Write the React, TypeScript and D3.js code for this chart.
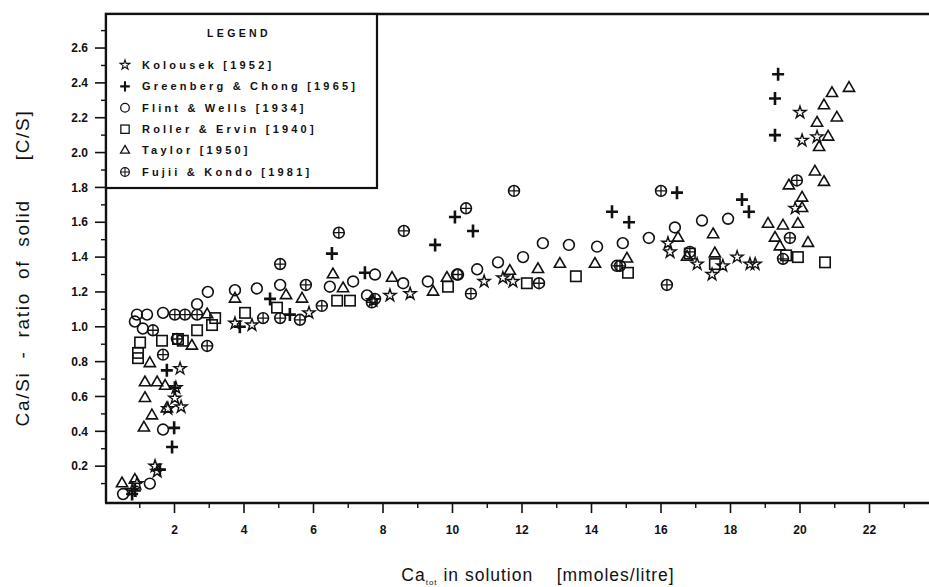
import React from "react";
import * as d3 from "d3";

type Pt = [number, number];

// Ca in solution [mmol/l], C/S of solid
const kolousek: Pt[] = [
  [20.0, 2.23], [20.06, 2.07], [20.49, 2.09], [19.86, 1.68], [18.19, 1.4], [18.71, 1.36],
  [18.56, 1.36], [17.47, 1.3], [17.78, 1.35], [17.04, 1.36], [16.2, 1.48], [16.26, 1.43],
  [10.91, 1.26], [11.45, 1.28], [11.74, 1.26], [8.2, 1.18], [8.78, 1.19], [7.71, 1.15],
  [5.87, 1.08], [4.23, 1.01], [3.74, 1.02], [2.16, 0.76], [2.04, 0.65], [2.19, 0.54],
  [2.01, 0.59], [1.81, 0.53], [1.44, 0.2], [1.5, 0.17], [0.92, 0.1], [0.78, 0.06],
];

const greenberg: Pt[] = [
  [19.37, 2.45], [19.28, 2.31], [19.28, 2.1], [18.33, 1.73], [18.53, 1.66], [14.59, 1.66],
  [15.08, 1.6], [16.46, 1.77], [10.07, 1.63], [10.59, 1.55], [9.5, 1.47], [6.53, 1.42],
  [7.48, 1.31], [4.75, 1.16], [5.32, 1.07], [3.88, 1.0], [1.78, 0.75], [2.01, 0.65],
  [1.99, 0.42], [1.93, 0.31], [1.58, 0.18], [0.86, 0.06], [0.78, 0.04],
];

const flint: Pt[] = [
  [17.93, 1.62], [17.18, 1.61], [16.4, 1.57], [15.65, 1.51], [14.9, 1.48], [14.16, 1.46],
  [13.35, 1.47], [12.6, 1.48], [12.03, 1.4], [11.31, 1.37], [10.71, 1.33], [10.13, 1.3],
  [9.29, 1.26], [8.58, 1.25], [7.77, 1.3], [7.14, 1.26], [7.54, 1.18], [6.47, 1.23],
  [5.04, 1.24], [4.37, 1.22], [3.74, 1.21], [2.96, 1.2], [2.65, 1.13], [1.67, 1.08],
  [0.92, 1.07], [1.21, 1.07], [0.86, 1.03], [1.09, 0.99], [1.67, 0.41], [1.29, 0.1],
  [0.52, 0.04],
];

const roller: Pt[] = [
  [20.72, 1.37], [19.94, 1.4], [19.6, 1.41], [17.55, 1.36], [15.05, 1.31], [16.83, 1.42],
  [12.14, 1.25], [13.55, 1.29], [9.87, 1.23], [7.05, 1.15], [6.68, 1.15], [4.95, 1.11],
  [4.03, 1.08], [3.17, 1.05], [3.08, 1.01], [2.65, 0.98], [2.1, 0.93], [1.64, 0.92],
  [1.01, 0.91], [0.95, 0.85], [0.95, 0.82], [2.24, 0.92],
];

const taylor: Pt[] = [
  [21.41, 2.37], [20.92, 2.34], [20.69, 2.27], [21.06, 2.2], [20.49, 2.17], [20.81, 2.09],
  [20.55, 2.03], [20.43, 1.89], [20.69, 1.83], [20.06, 1.74], [19.68, 1.81], [20.06, 1.68],
  [19.08, 1.59], [19.28, 1.51], [19.42, 1.46], [20.23, 1.48], [19.51, 1.58], [19.94, 1.59],
  [17.5, 1.53], [16.49, 1.51], [15.02, 1.39], [17.55, 1.42], [16.75, 1.4], [13.09, 1.36],
  [14.1, 1.36], [12.46, 1.33], [11.65, 1.32], [8.26, 1.28], [9.44, 1.2], [9.84, 1.28],
  [6.56, 1.3], [5.21, 1.18], [5.67, 1.16], [3.74, 1.16], [6.85, 1.22], [2.94, 1.07],
  [2.5, 0.89], [1.29, 0.79], [1.15, 0.68], [1.5, 0.68], [1.73, 0.66], [1.15, 0.59],
  [1.78, 0.53], [1.35, 0.49], [1.12, 0.42], [0.86, 0.12], [0.49, 0.1],
];

const fujii: Pt[] = [
  [11.77, 1.78], [10.39, 1.68], [8.6, 1.55], [6.73, 1.54], [10.53, 1.19], [12.49, 1.25],
  [14.82, 1.35], [10.16, 1.3], [7.68, 1.14], [16.0, 1.78], [16.17, 1.24], [16.83, 1.43],
  [14.73, 1.35], [19.91, 1.84], [19.71, 1.51], [19.51, 1.39], [5.04, 1.36], [5.78, 1.24],
  [6.24, 1.12], [4.55, 1.05], [5.04, 1.05], [5.61, 1.04], [7.77, 1.16], [2.01, 1.07],
  [2.3, 1.07], [2.65, 1.07], [1.38, 0.98], [2.07, 0.93], [1.67, 0.84], [2.94, 0.89],
];

const legendLabels = [
  "Kolousek [1952]",
  "Greenberg & Chong [1965]",
  "Flint & Wells [1934]",
  "Roller & Ervin [1940]",
  "Taylor [1950]",
  "Fujii & Kondo [1981]",
];
const kinds = ["star", "plus", "circle", "square", "triangle", "fujii"];
const series = [kolousek, greenberg, flint, roller, taylor, fujii];

const xTicks = d3.range(2, 23, 2);
const xMinor = d3.range(1, 24, 2);
const yTicks = d3.range(1, 14).map((i) => i * 0.2);
const yMinor = d3.range(0, 14).map((i) => i * 0.2 + 0.1);

const W = 929;
const H = 587;
const INK = "#111";

const x = d3.scaleLinear().domain([0, 24]).range([105, 939]);
const y = d3.scaleLinear().domain([0, 2.8]).range([501, 13.2]);

const starPath = d3.symbol(d3.symbolStar, 46)() as string;
const triPath = d3.symbol(d3.symbolTriangle, 54)() as string;

function Marker({ kind, cx, cy, s = 1 }: { kind: string; cx: number; cy: number; s?: number }) {
  const t = `translate(${cx},${cy}) scale(${s})`;
  const common = { fill: "none", stroke: INK, strokeWidth: 1.6 };
  if (kind === "star") return <path d={starPath} transform={t} {...common} strokeWidth={1.4} />;
  if (kind === "plus")
    return <path d="M-6,0H6M0,-6.5V6.5" transform={t} fill="none" stroke={INK} strokeWidth={2.6} />;
  if (kind === "circle") return <circle r={5.4} transform={t} {...common} />;
  if (kind === "square") return <rect x={-5.2} y={-5.2} width={10.4} height={10.4} transform={t} {...common} />;
  if (kind === "triangle") return <path d={triPath} transform={t} {...common} />;
  return (
    <g transform={t}>
      <circle r={5.4} {...common} />
      <path d="M-5.4,0H5.4M0,-5.4V5.4" stroke={INK} strokeWidth={1.3} />
    </g>
  );
}

export default function App() {
  const left = 106;
  const top = 14;
  const bottom = 503;
  const tickFont = { fontFamily: "Liberation Sans, Arial, sans-serif", fontWeight: 700, fontSize: 12, fill: INK };
  return (
    <svg
      width={W}
      height={H}
      viewBox={`0 0 ${W} ${H}`}
      style={{ position: "absolute", left: 0, top: 0, background: "#fff" }}
    >
      <rect width={W} height={H} fill="#fff" />

      {/* frame */}
      <path d={`M${left},${bottom}V${top}H${W}`} fill="none" stroke={INK} strokeWidth={2.4} />
      <line x1={left - 1} x2={W} y1={bottom} y2={bottom} stroke={INK} strokeWidth={2.6} />

      {/* y axis ticks */}
      {yTicks.map((v) => (
        <g key={"yt" + v}>
          <line x1={left - 11} x2={left} y1={y(v)} y2={y(v)} stroke={INK} strokeWidth={1.6} />
          <text x={left - 18} y={y(v)} dy="0.35em" textAnchor="end" {...tickFont}>
            {v.toFixed(1)}
          </text>
        </g>
      ))}
      {yMinor.map((v) => (
        <line key={"ym" + v} x1={left - 5} x2={left} y1={y(v)} y2={y(v)} stroke={INK} strokeWidth={1.4} />
      ))}

      {/* x axis ticks */}
      {xTicks.map((v) => (
        <g key={"xt" + v}>
          <line x1={x(v)} x2={x(v)} y1={bottom} y2={bottom + 10} stroke={INK} strokeWidth={1.6} />
          <text x={x(v)} y={bottom + 31} textAnchor="middle" {...tickFont}>
            {v}
          </text>
        </g>
      ))}
      {xMinor.map((v) => (
        <line key={"xm" + v} x1={x(v)} x2={x(v)} y1={bottom} y2={bottom + 5} stroke={INK} strokeWidth={1.4} />
      ))}

      {/* axis titles */}
      <text
        transform={`translate(29,268) rotate(-90)`}
        textAnchor="middle"
        style={{ whiteSpace: "pre" }}
        fontFamily="Liberation Sans, Arial, sans-serif"
        fontSize={19}
        letterSpacing={1.7}
        wordSpacing={6}
        fill={INK}
      >
        {"Ca/Si - ratio of solid   [C/S]"}
      </text>
      <text
        x={538}
        y={581}
        textAnchor="middle"
        style={{ whiteSpace: "pre" }}
        fontFamily="Liberation Sans, Arial, sans-serif"
        fontSize={17.5}
        letterSpacing={1}
        fill={INK}
      >
        Ca
        <tspan fontSize={8} dy={4}>tot</tspan>
        <tspan dy={-4}>{" in solution    [mmoles/litre]"}</tspan>
      </text>

      {/* data */}
      {series.map((pts, si) =>
        pts.map((p, i) => <Marker key={si + "-" + i} kind={kinds[si]} cx={x(p[0])} cy={y(p[1])} />)
      )}

      {/* legend */}
      <rect x={left} y={top} width={271} height={174} fill="#fff" stroke={INK} strokeWidth={2.2} />
      <text
        x={239}
        y={37}
        textAnchor="middle"
        fontFamily="Liberation Sans, Arial, sans-serif"
        fontWeight={700}
        fontSize={10.5}
        letterSpacing={3.4}
        fill={INK}
      >
        LEGEND
      </text>
      {legendLabels.map((lab, i) => {
        const ly = 65 + i * 21.4;
        return (
          <g key={lab}>
            <Marker kind={kinds[i]} cx={125} cy={ly} s={0.8} />
            <text
              x={142}
              y={ly}
              dy="0.35em"
              style={{ whiteSpace: "pre" }}
              fontFamily="Liberation Sans, Arial, sans-serif"
              fontWeight={700}
              fontSize={11}
              letterSpacing={3.2}
              fill={INK}
            >
              {lab}
            </text>
          </g>
        );
      })}
    </svg>
  );
}
